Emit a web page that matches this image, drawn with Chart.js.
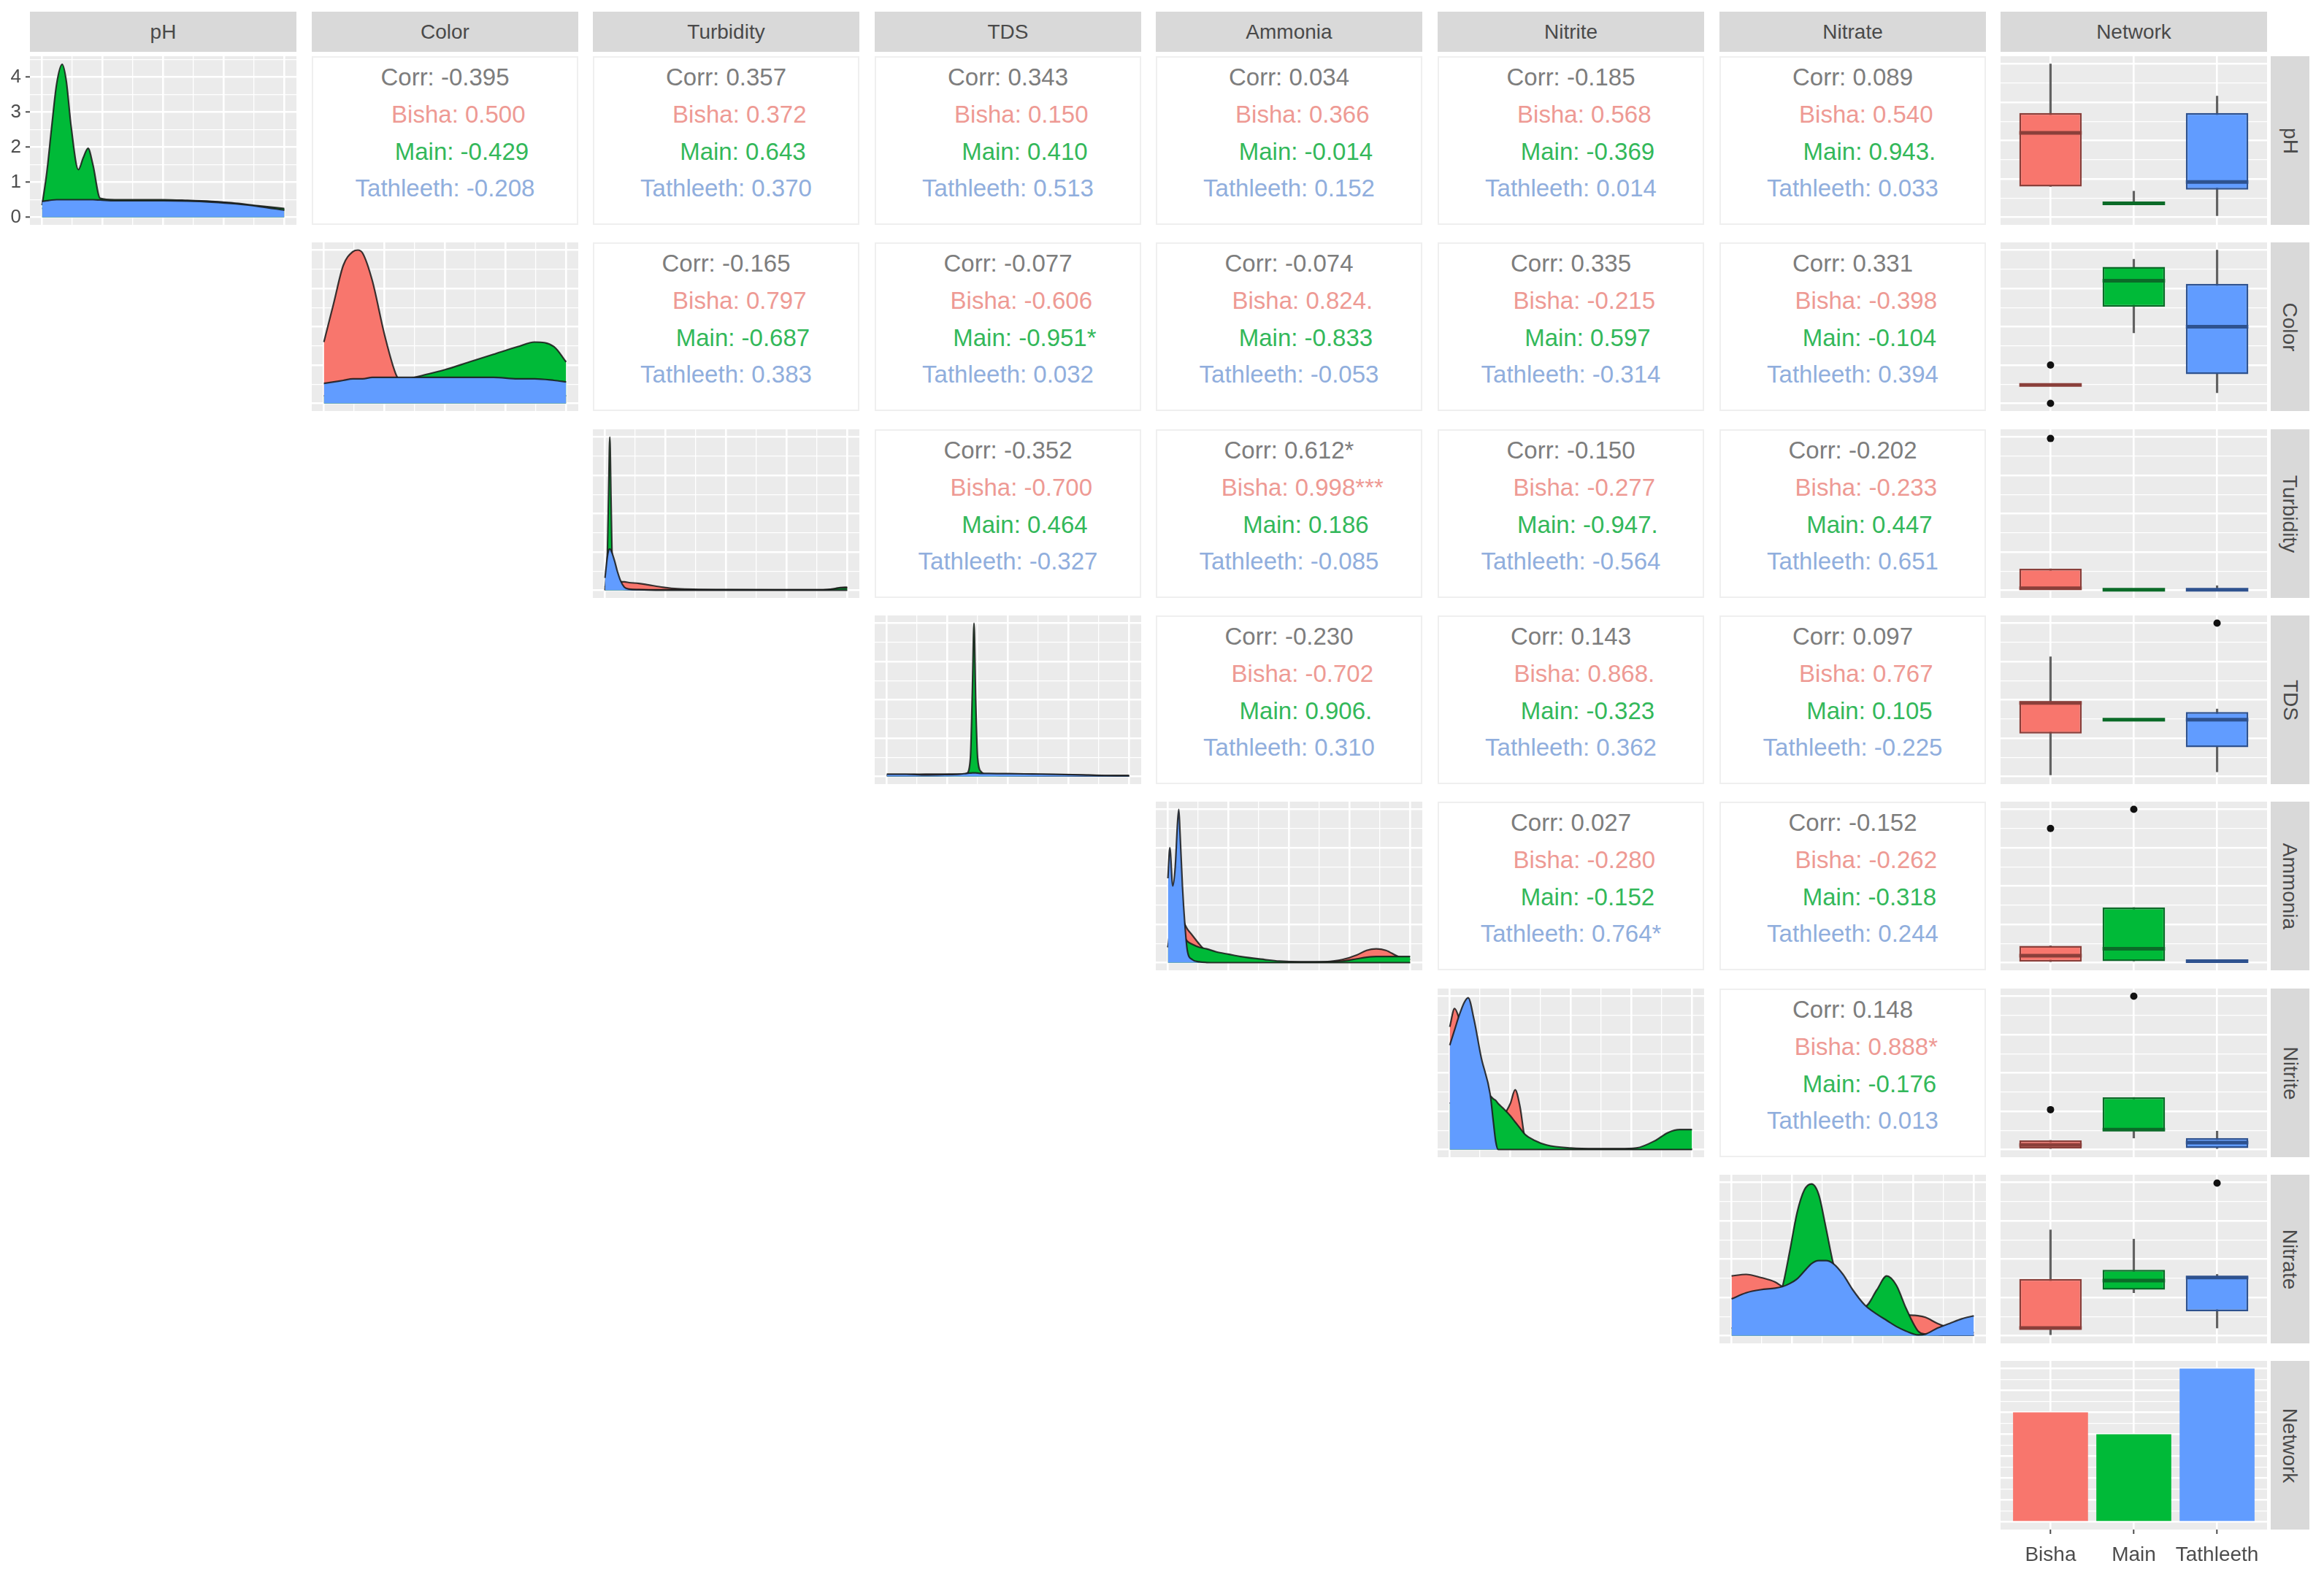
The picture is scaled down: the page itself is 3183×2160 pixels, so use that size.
<!DOCTYPE html>
<html>
<head>
<meta charset="utf-8">
<script src="https://cdn.jsdelivr.net/npm/chart.js@4.4.1/dist/chart.umd.min.js"></script>
<style>
body { margin: 0; background: #fff; font-family: "Liberation Sans", Arial, sans-serif; }
#plot { position: relative; width: 3183px; height: 2160px; overflow: hidden; background: #fff; }
.abs { position: absolute; }
.strip { background: #D9D9D9; color: #4a4a4a; font-size: 28px; display: flex; align-items: center; justify-content: center; }
.strip span { white-space: nowrap; }
.side span { transform: rotate(90deg); }
.cor { background: #fff; border: 2px solid #EFEFEF; box-sizing: border-box; text-align: center;
       font-size: 33px; line-height: 50.8px; white-space: pre; padding-top: 2px; }
</style>
</head>
<body>
<div id="plot"></div>
<script>
// variables and groups
const variables = ['pH', 'Color', 'Turbidity', 'TDS', 'Ammonia', 'Nitrite', 'Nitrate', 'Network'];
const groups = ['Bisha', 'Main', 'Tathleeth'];
const groupFill = ['#F8766D', '#00BA38', '#619CFF'];
const groupLine = ['#8A3F3A', '#0B6B28', '#2E528F'];
const groupText = ['#EE9A94', '#33B85A', '#90AEDD'];

// diagonal densities (x in % of each variable's range)
const phX = [0, 2, 4, 6, 8.3, 10, 12, 15, 17, 19, 21, 24, 30, 40, 50, 60, 70, 80, 90, 100];
const phBisha = [0.25, 0.27, 0.3, 0.32, 0.34, 0.35, 0.36, 0.37, 0.38, 0.39, 0.4, 0.41, 0.43, 0.45, 0.46, 0.46, 0.44, 0.38, 0.3, 0.22];
const phMain = [0.34, 1.3, 2.6, 3.8, 4.37, 3.9, 2.6, 1.36, 1.7, 1.97, 1.5, 0.54, 0.5, 0.5, 0.5, 0.48, 0.45, 0.4, 0.32, 0.25];
const phTath = [0.45, 0.47, 0.49, 0.5, 0.5, 0.5, 0.5, 0.5, 0.5, 0.5, 0.5, 0.49, 0.47, 0.47, 0.47, 0.46, 0.43, 0.38, 0.3, 0.2];

const colorX = [0, 4, 8, 12, 14, 16, 20, 25, 30, 35, 40, 50, 60, 70, 80, 87, 95, 100];
const colorBisha = [40, 65, 90, 99, 100, 98, 80, 45, 18, 10, 8, 6, 5, 5, 5, 5, 5, 5];
const colorMain = [5, 5, 6, 7, 8, 9, 10, 12, 14, 16, 18, 22, 27, 32, 37, 40, 37, 27];
const colorTath = [13, 14, 15, 16, 16, 16, 17, 17, 17, 17, 17, 17, 17, 17, 16, 16, 15, 14];

const turbX = [0, 1, 1.5, 2, 2.5, 3, 4, 5, 6.5, 8, 10, 14, 18, 24, 30, 50, 70, 90, 94, 97, 100];
const turbBisha = [2, 4, 5, 5.5, 5.5, 5.5, 5.5, 5.5, 5.5, 5.5, 5, 4.5, 3.5, 2, 1, 0.4, 0.3, 0.3, 0.8, 1.8, 2];
const turbMain = [0, 25, 65, 100, 60, 20, 6, 2, 1, 0.6, 0.4, 0.3, 0.3, 0.3, 0.3, 0.3, 0.3, 0.3, 0.8, 1.5, 1.5];
const turbTath = [8, 22, 26, 27, 26, 24, 19, 13, 6, 2, 0.8, 0.4, 0.2, 0.1, 0.1, 0.1, 0.1, 0.1, 0.1, 0.1, 0.1];

const tdsX = [0, 8, 16, 24, 30, 33, 34.5, 35.3, 36, 36.7, 37.5, 39, 42, 50, 60, 70, 80, 90, 100];
const tdsBisha = [1, 1.2, 1.5, 1.5, 1.5, 1.5, 1.5, 1.5, 1.5, 1.5, 1.5, 1.5, 1.5, 1.5, 1.4, 1.2, 0.9, 0.6, 0.5];
const tdsMain = [0.5, 0.5, 0.5, 0.6, 0.8, 2, 12, 55, 100, 50, 12, 3, 1, 0.6, 0.5, 0.4, 0.3, 0.3, 0.3];
const tdsTath = [1.5, 1.5, 1, 1.2, 1.5, 2, 2.2, 2.3, 2.3, 2.3, 2.2, 2, 2, 1.8, 1.6, 1.4, 1, 0.6, 0.5];

const ammX = [0, 0.8, 2, 3, 4, 4.5, 5, 6, 7, 8, 10, 13, 16, 20, 25, 30, 40, 46, 55, 65, 72, 78, 82, 86, 90, 95, 100];
const ammBisha = [10, 20, 25, 30, 34, 35, 33, 29, 25, 22, 18, 12, 7, 4, 2, 1, 0.5, 0.3, 0.3, 0.6, 2, 5, 8, 9, 8, 4, 2];
const ammMain = [10, 15, 19, 20, 20, 20, 19, 18, 16, 14, 12, 10, 9, 7, 5.5, 4, 2, 1, 0.5, 0.5, 1, 2.5, 3.5, 4, 4, 4, 4];
const ammTath = [55, 75, 50, 62, 92, 100, 85, 50, 25, 8, 2, 0.5, 0.1, 0, 0, 0, 0, 0, 0, 0, 0, 0, 0, 0, 0, 0, 0];

const nitX = [0, 2, 4, 6, 7.6, 10, 13, 16.7, 18, 19, 20, 22, 25, 27, 29, 31, 35, 40, 50, 60, 70, 77, 85, 90, 95, 100];
const nitBisha = [80, 92, 85, 75, 68, 55, 40, 28, 22, 21, 20, 22, 30, 39, 28, 8, 1, 0.5, 0.3, 0.3, 0.3, 0.3, 0.3, 0.3, 0.3, 0.3];
const nitMain = [30, 32, 34, 36, 37, 37, 36, 35, 33, 32, 30, 27, 22, 18, 14, 10, 6, 3, 1, 0.5, 0.5, 1, 6, 11, 13, 13];
const nitTath = [68, 78, 88, 96, 99, 85, 60, 36, 18, 5, 0, 0, 0, 0, 0, 0, 0, 0, 0, 0, 0, 0, 0, 0, 0, 0];

const nitrX = [0, 6, 12, 18, 21, 24, 27, 30, 33, 36, 39, 42, 46, 50, 55, 60, 64, 68, 72, 77, 80, 85, 90, 95, 100];
const nitrBisha = [39, 40, 38, 35, 32, 30, 28, 25, 22, 20, 18, 16, 15, 14, 14, 14, 14, 14, 13.5, 13, 12, 8, 5, 3, 2];
const nitrMain = [5, 6, 10, 20, 32, 55, 80, 95, 99, 92, 70, 47, 28, 22, 19, 30, 39, 33, 18, 3, 1, 0.5, 0.3, 0.3, 0.3];
const nitrTath = [24, 28, 30, 31, 32, 34, 37, 42, 47, 49, 49, 47, 40, 30, 20, 14, 10, 6, 3, 0.5, 1, 5, 8, 11, 13];

// boxplots by Network: [lower whisker, q1, median, q3, upper whisker] per group
const boxPH = [[20, 20, 55, 68, 100], [9, 9, 9, 9.5, 17], [1, 18, 23, 68, 79]];
const boxColor = [[12, 12, 12, 12, 12], [46, 63, 80, 89, 94], [7, 19, 50, 78, 100]];
const boxTurb = [[0, 0, 1.3, 14, 14], [0.3, 0.3, 0.3, 0.3, 0.3], [0.3, 0.3, 0.3, 0.3, 3]];
const boxTDS = [[1, 28, 48, 49, 78], [37, 37, 37, 37, 37], [3, 19, 37, 42, 44]];
const boxAmm = [[0, 0, 4.5, 11, 11], [1, 1, 9, 36, 36], [1, 1, 1, 1, 1]];
const boxNit = [[0, 0, 3, 6, 6], [7.5, 12, 13, 34, 34], [0, 1, 4.5, 7.5, 12]];
const boxNitr = [[0, 4.7, 5, 37, 69], [28, 30, 36, 43, 63], [5, 16, 38, 38.5, 40]];
const outPH = [[], [], []];
const outColor = [[25, 0], [], []];
const outTurb = [[99], [], []];
const outTDS = [[], [], [100]];
const outAmm = [[87.5], [100], []];
const outNit = [[26], [100], []];
const outNitr = [[], [], [99.5]];

// counts per network
const networkCounts = [5, 4, 7];

// correlation panels, row by row (upper triangle)
const corrTotal = ['-0.395', '0.357', '0.343', '0.034', '-0.185', '0.089',
  '-0.165', '-0.077', '-0.074', '0.335', '0.331',
  '-0.352', '0.612*', '-0.150', '-0.202',
  '-0.230', '0.143', '0.097',
  '0.027', '-0.152',
  '0.148'];
const corrBisha = ['0.500', '0.372', '0.150', '0.366', '0.568', '0.540',
  '0.797', '-0.606', '0.824.', '-0.215', '-0.398',
  '-0.700', '0.998***', '-0.277', '-0.233',
  '-0.702', '0.868.', '0.767',
  '-0.280', '-0.262',
  '0.888*'];
const corrMain = ['-0.429', '0.643', '0.410', '-0.014', '-0.369', '0.943.',
  '-0.687', '-0.951*', '-0.833', '0.597', '-0.104',
  '0.464', '0.186', '-0.947.', '0.447',
  '0.906.', '-0.323', '0.105',
  '-0.152', '-0.318',
  '-0.176'];
const corrTath = ['-0.208', '0.370', '0.513', '0.152', '0.014', '0.033',
  '0.383', '0.032', '-0.053', '-0.314', '0.394',
  '-0.327', '-0.085', '-0.564', '0.651',
  '0.310', '0.362', '-0.225',
  '0.764*', '0.244',
  '0.013'];

// grid breaks
const pctGrid = [0, 12.5, 25, 37.5, 50, 62.5, 75, 87.5, 100];
const phGrid = [0, 0.5, 1, 1.5, 2, 2.5, 3, 3.5, 4, 4.5];
const countGrid = [0, 0.5, 1, 1.5, 2, 2.5, 3, 3.5, 4, 4.5, 5, 5.5, 6, 6.5, 7];

// layout
const PW = 365, PH = 231;
const colX = i => Math.round(41 + i * 385.6);
const rowY = j => Math.round(77 + j * 255.3);

Chart.defaults.font.family = '"Liberation Sans", Arial, sans-serif';
Chart.register({
  id: 'panelBg',
  beforeDraw(chart) {
    const a = chart.chartArea, ctx = chart.ctx;
    ctx.save();
    ctx.fillStyle = '#EBEBEB';
    ctx.fillRect(a.left, a.top, a.right - a.left, a.bottom - a.top);
    ctx.restore();
  }
});

const plot = document.getElementById('plot');
function addDiv(cls, x, y, w, h) {
  const d = document.createElement('div');
  d.className = 'abs ' + cls;
  d.style.left = x + 'px'; d.style.top = y + 'px';
  d.style.width = w + 'px'; d.style.height = h + 'px';
  plot.appendChild(d);
  return d;
}
function addCanvas(x, y, w, h) {
  const c = document.createElement('canvas');
  c.className = 'abs';
  c.width = w; c.height = h;
  c.style.left = x + 'px'; c.style.top = y + 'px';
  c.style.width = w + 'px'; c.style.height = h + 'px';
  plot.appendChild(c);
  return c;
}

// keep tick labels from shrinking the panel
function noPad(s) { s.paddingTop = 0; s.paddingBottom = 0; s.paddingLeft = 0; s.paddingRight = 0; }

function gridScale(min, max, breaks, extra) {
  return Object.assign({
    type: 'linear', min: min, max: max, offset: false,
    afterBuildTicks: s => { s.ticks = breaks.map(v => ({ value: v })); },
    ticks: { display: false },
    grid: { color: '#FFFFFF', lineWidth: c => (c.index % 2 ? 1.3 : 2.6), drawTicks: false, offset: false },
    border: { display: false }
  }, extra || {});
}

function baseOptions(scales) {
  return {
    responsive: false, animation: false, devicePixelRatio: 1, events: [],
    layout: { padding: 0, autoPadding: false },
    plugins: { legend: { display: false }, tooltip: { enabled: false } },
    scales: scales
  };
}

// strips
variables.forEach((v, i) => {
  addDiv('strip', colX(i), 16, PW, 55).innerHTML = '<span>' + v + '</span>';
  addDiv('strip side', 3110, rowY(i), 53, PH).innerHTML = '<span>' + v + '</span>';
});

// diagonal density panels
const diagX = [phX, colorX, turbX, tdsX, ammX, nitX, nitrX];
const diagY = [[phBisha, phMain, phTath], [colorBisha, colorMain, colorTath], [turbBisha, turbMain, turbTath],
  [tdsBisha, tdsMain, tdsTath], [ammBisha, ammMain, ammTath], [nitBisha, nitMain, nitTath], [nitrBisha, nitrMain, nitrTath]];

diagX.forEach((xs, k) => {
  const first = k === 0;
  const canvas = first ? addCanvas(0, rowY(0), colX(0) + PW, PH) : addCanvas(colX(k), rowY(k), PW, PH);
  const yScale = first
    ? gridScale(-0.22, 4.6, phGrid, {
        afterFit: s => { s.width = colX(0); noPad(s); },
        ticks: { display: true, autoSkip: false, padding: 6, color: '#4D4D4D', font: { size: 26 },
                 callback: v => (Number.isInteger(v) ? String(v) : '') },
        grid: { color: '#FFFFFF', lineWidth: c => (c.index % 2 ? 1.3 : 2.6), drawTicks: true, tickLength: 6,
                tickColor: c => (c.index % 2 ? 'rgba(0,0,0,0)' : '#4D4D4D'), tickWidth: 2 }
      })
    : gridScale(-5, 105, pctGrid);
  new Chart(canvas, {
    type: 'line',
    data: {
      datasets: diagY[k].map((ys, g) => ({
        label: groups[g],
        data: xs.map((x, n) => ({ x: x, y: ys[n] })),
        backgroundColor: groupFill[g],
        borderColor: 'rgba(25,25,25,0.85)',
        borderWidth: 2.2,
        fill: 'origin',
        pointRadius: 0,
        cubicInterpolationMode: 'monotone',
        order: 2 - g
      }))
    },
    options: baseOptions({ x: gridScale(-5, 105, pctGrid, { afterFit: noPad }), y: yScale })
  });
});

// boxplots (Network column)
const boxStats = [boxPH, boxColor, boxTurb, boxTDS, boxAmm, boxNit, boxNitr];
const boxOut = [outPH, outColor, outTurb, outTDS, outAmm, outNit, outNitr];
const boxHalf = 0.375;
boxStats.forEach((stats, k) => {
  const datasets = [];
  stats.forEach((s, g) => {
    datasets.push({ type: 'bar', data: [{ x: g, y: [s[0], s[4]] }], backgroundColor: 'rgba(70,70,70,0.85)',
      barThickness: 2.5, grouped: false, order: 4 });
    datasets.push({ type: 'bar', data: [{ x: g, y: [s[1], s[3]] }], backgroundColor: groupFill[g],
      borderColor: groupLine[g], borderWidth: 2.5, borderSkipped: false, grouped: false,
      barPercentage: 2 * boxHalf, categoryPercentage: 1, order: 3 });
    datasets.push({ type: 'line', data: [{ x: g - boxHalf, y: s[2] }, { x: g + boxHalf, y: s[2] }],
      borderColor: groupLine[g], borderWidth: 5, pointRadius: 0, order: 2 });
    if (boxOut[k][g].length) {
      datasets.push({ type: 'line', showLine: false, data: boxOut[k][g].map(v => ({ x: g, y: v })),
        pointRadius: 5, pointBackgroundColor: '#111111', pointBorderWidth: 0, order: 1 });
    }
  });
  new Chart(addCanvas(colX(7), rowY(k), PW, PH), {
    type: 'bar',
    data: { datasets: datasets },
    options: baseOptions({
      x: gridScale(-0.6, 2.6, [0, 1, 2], { grid: { color: '#FFFFFF', lineWidth: 2.6, drawTicks: false, offset: false } }),
      y: gridScale(-5, 105, pctGrid)
    })
  });
});

// Network bar chart with category labels
new Chart(addCanvas(colX(7), rowY(7), PW, PH + 66), {
  type: 'bar',
  data: {
    datasets: [{
      data: networkCounts.map((n, g) => ({ x: g, y: n })),
      backgroundColor: groupFill, barPercentage: 0.9, categoryPercentage: 1
    }]
  },
  options: baseOptions({
    x: gridScale(-0.6, 2.6, [0, 1, 2], {
      afterFit: s => { s.height = 66; noPad(s); },
      ticks: { display: true, autoSkip: false, maxRotation: 0, padding: 12, color: '#4D4D4D', font: { size: 28 },
               callback: v => groups[v] },
      grid: { color: '#FFFFFF', lineWidth: 2.6, drawTicks: true, tickLength: 6, tickColor: '#4D4D4D', tickWidth: 2, offset: false }
    }),
    y: gridScale(-0.35, 7.35, countGrid)
  })
});

// correlation text panels
function pad(name) { return ' '.repeat(9 - name.length) + name; }
let n = 0;
for (let j = 0; j < 6; j++) {
  for (let i = j + 1; i < 7; i++) {
    const d = addDiv('cor', colX(i), rowY(j), PW, PH);
    const vals = [corrBisha[n], corrMain[n], corrTath[n]];
    let html = '<div style="color:#7D7D7D">Corr: ' + corrTotal[n] + '</div>';
    vals.forEach((v, g) => {
      html += '<div style="color:' + groupText[g] + '">' + pad(groups[g]) + ': ' + v + '</div>';
    });
    d.innerHTML = html;
    n++;
  }
}
</script>
</body>
</html>
